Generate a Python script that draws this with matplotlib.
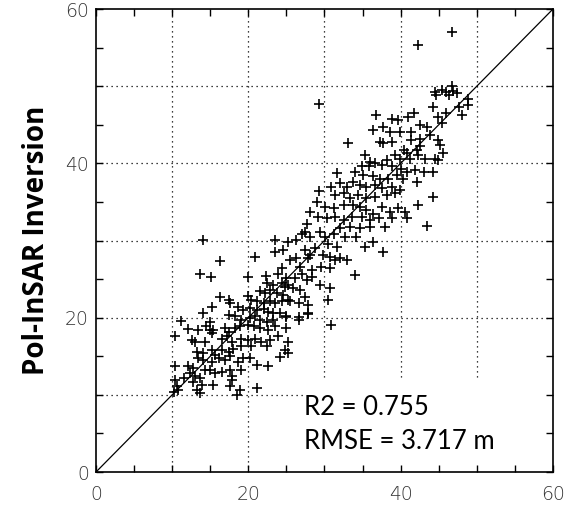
import matplotlib
matplotlib.use('Agg')
import matplotlib.pyplot as plt
from matplotlib.ticker import MultipleLocator

# LiDAR height (x) vs Pol-InSAR inversion height (y)
lidar = [13.65, 15.05, 20.0, 22.3, 23.9, 25.0, 22.4, 23.3, 24.4, 25.2, 21.5, 22.2, 22.8, 23.7, 24.6, 25.2,
         16.3, 17.4, 17.6, 20.0, 20.4, 21.1, 22.0, 22.8, 23.5, 24.4, 18.7, 19.3, 20.2, 21.1, 22.0, 22.6,
         23.3, 24.2, 25.0, 14.1, 15.2, 17.4, 18.2, 19.1, 20.2, 20.9, 21.5, 22.4, 23.3, 11.2, 15.0, 14.5,
         15.0, 15.2, 15.4, 12.1, 13.4, 16.9, 17.4, 18.2, 18.9, 20.0, 20.7, 21.5, 22.6, 23.5, 25.0, 10.4,
         12.6, 13.0, 14.3, 16.5, 17.2, 17.8, 19.1, 20.0, 20.9, 21.7, 22.8, 23.9, 25.2, 13.2, 14.1, 15.2,
         15.6, 16.5, 17.4, 18.0, 19.1, 20.4, 22.4, 24.8, 25.2, 10.4, 12.1, 12.8, 13.4, 14.1, 15.2, 16.1,
         16.9, 17.6, 18.7, 19.3, 20.2, 21.1, 22.6, 24.2, 12.3, 13.0, 13.7, 14.3, 15.0, 15.6, 16.5, 17.6,
         17.8, 19.1, 10.4, 11.5, 12.8, 13.9, 15.4, 17.8, 10.6, 10.8, 10.2, 13.2, 13.7, 18.9, 21.1, 17.6,
         18.5,
         29.3, 29.0, 28.1, 29.2, 27.7, 27.0, 27.4, 28.1, 29.4, 23.5, 25.2, 26.3, 27.4, 28.1, 28.7, 29.8,
         30.7, 31.4, 32.0, 33.0, 23.5, 24.6, 25.5, 26.3, 26.8, 27.9, 28.3, 29.6, 30.7, 34.0, 20.9, 24.4,
         26.1, 27.0, 27.7, 28.3, 29.4, 30.7, 30.5, 25.9, 26.8, 27.4, 26.6, 27.9, 25.0, 26.6, 27.9, 25.5,
         24.8,
         44.2, 46.0, 36.8, 36.4, 37.7, 38.8, 39.7, 41.0, 41.7, 38.6, 39.9, 41.4, 42.5, 43.4, 44.9, 45.4,
         33.1, 37.3, 37.7, 38.8, 41.4, 42.5, 43.9, 44.9, 45.2, 42.1, 42.5, 40.4, 40.8, 39.3, 39.9, 41.2,
         42.3, 43.2, 44.5, 45.6, 44.9, 35.3, 36.0, 36.6, 37.5, 38.2, 38.8, 40.1, 40.8, 41.9, 43.0, 44.3,
         34.9, 35.8, 34.0, 31.6, 35.1, 36.4, 37.3, 38.4, 39.5, 40.3, 42.1, 30.9, 32.0, 32.9, 33.8, 34.7,
         35.5, 36.6, 37.5, 38.8, 39.9, 31.4, 32.5, 33.4, 34.4, 35.5, 36.6, 38.2, 39.3, 44.3, 42.3, 30.1,
         31.2, 32.5, 33.8, 34.7, 35.5, 36.4, 37.5, 38.6, 39.7, 40.6, 30.3, 31.4, 32.5, 33.6, 34.9, 36.0,
         37.1, 38.8, 40.8, 32.0, 33.4, 34.7, 36.0, 37.9, 43.4, 30.1, 31.2, 32.7, 34.2, 36.4, 30.5, 31.6,
         35.3,
         46.7, 42.3, 44.5, 44.7, 45.4, 46.0, 46.7, 46.9, 46.3, 47.4, 48.8, 47.7, 48.9, 48.0,
         29.3, 14.0, 16.3, 26.6, 27.9, 30.9, 37.7]

polinsar = [25.7, 25.3, 25.3, 25.4, 25.7, 25.2, 24.5, 24.3, 24.5, 24.3, 23.4, 23.2, 23.6, 23.2, 23.0, 22.3,
            22.7, 22.3, 21.9, 22.8, 22.3, 22.1, 21.9, 22.1, 21.9, 22.1, 21.4, 21.0, 21.2, 21.0, 21.1, 20.8,
            20.6, 20.6, 20.2, 20.6, 21.4, 20.4, 20.2, 19.7, 19.9, 20.2, 19.7, 19.5, 19.7, 19.6, 19.5, 18.9,
            18.4, 18.0, 18.4, 18.5, 18.4, 18.6, 18.2, 18.6, 18.9, 19.1, 18.9, 18.6, 18.4, 18.9, 18.6, 17.6,
            17.1, 16.9, 16.9, 17.3, 17.6, 16.9, 17.3, 17.1, 17.3, 16.9, 17.1, 17.6, 16.9, 15.6, 15.4, 15.8,
            15.2, 15.8, 15.6, 16.0, 16.3, 16.3, 16.3, 15.8, 15.4, 13.7, 13.7, 13.5, 14.8, 14.5, 14.3, 14.8,
            14.5, 15.0, 14.3, 14.8, 14.8, 13.9, 13.7, 14.9, 12.8, 12.4, 12.2, 13.2, 13.2, 12.8, 13.0, 13.2,
            12.4, 13.2, 11.9, 12.2, 11.7, 11.3, 11.3, 11.9, 11.1, 10.6, 10.4, 10.6, 10.2, 10.6, 10.9, 11.1,
            10.0,
            36.4, 35.0, 33.7, 33.1, 32.2, 30.9, 31.1, 30.5, 31.1, 30.1, 29.8, 30.1, 28.8, 28.1, 29.0, 28.1,
            27.9, 27.5, 27.7, 27.5, 28.5, 28.8, 27.5, 27.7, 26.6, 27.7, 26.2, 26.6, 26.4, 25.5, 27.9, 26.4,
            25.1, 25.7, 24.9, 25.3, 24.2, 23.8, 22.3, 23.8, 23.6, 22.7, 21.9, 21.6, 20.1, 20.1, 20.5, 22.1,
            24.0,
            47.3, 46.5, 46.3, 44.3, 44.7, 45.8, 45.6, 46.0, 46.5, 44.1, 44.1, 44.1, 45.0, 44.7, 46.0, 45.2,
            42.6, 42.8, 42.6, 42.8, 43.0, 43.2, 43.7, 43.0, 42.4, 41.7, 42.2, 41.7, 41.3, 41.1, 40.6, 40.6,
            41.1, 40.6, 40.6, 41.3, 40.4, 41.1, 40.2, 40.0, 39.8, 40.4, 39.6, 39.3, 38.9, 39.1, 38.9, 38.9,
            39.6, 39.6, 38.9, 38.7, 38.5, 38.3, 38.0, 38.0, 38.5, 38.0, 37.6, 37.0, 37.4, 37.0, 37.6, 37.2,
            37.0, 37.2, 36.8, 37.0, 36.5, 35.9, 36.1, 35.5, 35.9, 35.5, 35.7, 35.9, 36.1, 35.7, 34.6, 34.4,
            34.2, 34.6, 34.6, 34.4, 33.9, 33.5, 34.4, 33.7, 34.2, 33.7, 32.9, 33.1, 32.6, 33.1, 33.1, 32.6,
            32.9, 32.9, 32.9, 31.6, 31.8, 31.6, 31.8, 31.8, 31.9, 30.5, 30.9, 30.5, 30.5, 29.8, 29.6, 29.2,
            29.2,
            57.0, 55.4, 49.3, 48.8, 49.5, 49.3, 50.0, 49.4, 48.8, 49.1, 48.3, 47.3, 47.5, 46.3,
            47.7, 30.1, 27.3, 19.7, 20.6, 19.0, 28.5]

r2 = 0.755
rmse = 3.717

fig = plt.figure(figsize=(5.67, 5.07), dpi=100)
ax = fig.add_axes([0.1693, 0.069, 0.806, 0.9132])

ax.set_xlim(0, 60)
ax.set_ylim(0, 60)

# dotted grid, cut where the stats box sits
box_x, box_y = 27.2, 12.3
for v in range(10, 60, 10):
    ymin = box_y / 60 if v > box_x else 0
    ax.axvline(v, ymin=ymin, color='black', ls=(0, (1, 3)), lw=0.9, zorder=1)
    xmax = box_x / 60 if v < box_y else 1
    ax.axhline(v, xmax=xmax, color='black', ls=(0, (1, 3)), lw=0.9, zorder=1)

ax.plot([0, 60], [0, 60], color='black', lw=0.9, zorder=2)
ax.plot(lidar, polinsar, '+', color='black', ms=7.5, mew=1.2, zorder=3)

ax.xaxis.set_major_locator(MultipleLocator(20))
ax.yaxis.set_major_locator(MultipleLocator(20))
ax.xaxis.set_minor_locator(MultipleLocator(5))
ax.yaxis.set_minor_locator(MultipleLocator(5))
ax.tick_params(which='both', direction='in', top=True, right=True, length=5, width=1, colors='black',
               labelcolor='#333333', labelsize=13.5)
ax.tick_params(axis='x', pad=9)
ax.tick_params(axis='y', pad=5)
for lab in ax.get_xticklabels() + ax.get_yticklabels():
    lab.set_fontfamily('DejaVu Sans')
    lab.set_fontweight('light')

for s in ax.spines.values():
    s.set_linewidth(1.2)

ax.set_ylabel('Pol-InSAR Inversion', fontsize=20, fontweight='bold', family='Open Sans', labelpad=10)

ax.text(27.3, 8.3, f'R2 = {r2}', fontsize=18.5, family='Lato', va='center')
ax.text(27.3, 4.0, f'RMSE = {rmse} m', fontsize=18.5, family='Lato', va='center')

plt.savefig('out.png', dpi=100)
